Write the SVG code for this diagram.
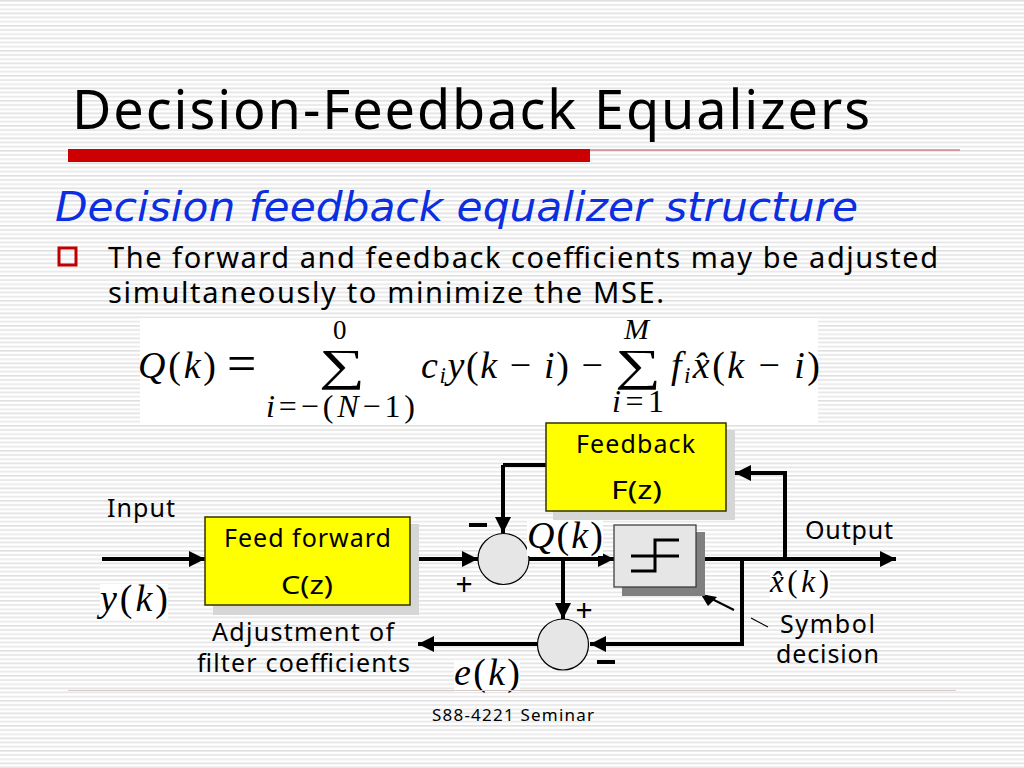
<svg xmlns="http://www.w3.org/2000/svg" width="1024" height="768" viewBox="0 0 1024 768">
<defs>
<pattern id="stripes" width="4" height="12.5" patternUnits="userSpaceOnUse">
<rect width="4" height="12.5" fill="#ffffff"/>
<rect y="0" width="4" height="1.6" fill="#e0e0e0"/>
<rect y="4.2" width="4" height="1.6" fill="#e4e4e4"/>
<rect y="8.4" width="4" height="1.6" fill="#e8e8e8"/>
</pattern>
<marker id="ah" markerUnits="userSpaceOnUse" markerWidth="18" markerHeight="18" refX="16" refY="8" orient="auto">
<path d="M0 0L16 8L0 16Z" fill="#000"/>
</marker>
</defs>
<style>
text{font-family:"Noto Sans","DejaVu Sans",sans-serif;fill:#000}
.m{font-family:"Liberation Serif",serif;font-style:italic;font-size:38px}
.r{font-family:"Liberation Serif",serif;font-style:normal}
.bg{fill:#fff}
.w{stroke:#000;stroke-width:4;fill:none}
.a{marker-end:url(#ah)}
.sum{fill:#e6e6e6;stroke:#000;stroke-width:1.2}
.box{fill:#ffff00;stroke:#333300;stroke-width:1.5}
.sh{fill:#d6d6d6}
.lb{font-size:25px}
</style>
<rect width="1024" height="768" fill="url(#stripes)"/>
<g id="title">
<text x="72" y="129" font-size="54" textLength="798" lengthAdjust="spacing">Decision-Feedback Equalizers</text>
<rect x="68" y="149" width="522" height="13" fill="#cc0000"/>
<rect x="590" y="149.500" width="370" height="1" fill="#c05050"/>
</g>
<g id="body">
<text x="55" y="221" font-size="40" font-style="italic" style="font-family:'DejaVu Sans',sans-serif;fill:#0a2ee0" textLength="803" lengthAdjust="spacingAndGlyphs">Decision feedback equalizer structure</text>
<rect x="59" y="248" width="17" height="17" fill="none" stroke="#c00000" stroke-width="3"/>
<text x="108" y="268" font-size="29" textLength="830" lengthAdjust="spacing">The forward and feedback coefficients may be adjusted</text>
<text x="108" y="303" font-size="29" textLength="556" lengthAdjust="spacing">simultaneously to minimize the MSE.</text>
</g>
<g id="equation">
<rect x="140" y="318" width="678" height="105" fill="#fff"/>
<text class="m" x="138" y="378" textLength="78">Q<tspan class="r">(</tspan>k<tspan class="r">)</tspan></text>
<text class="r" x="227" y="381" font-size="52" style="font-family:'Liberation Serif',serif">=</text>
<text class="r" x="333" y="339" font-size="27" style="font-family:'Liberation Serif',serif">0</text>
<text class="r" transform="translate(319 380) scale(1.15 .8)" font-size="56" style="font-family:'Liberation Serif',serif">∑</text>
<text class="m" x="266" y="417" style="font-size:32px" textLength="149">i<tspan class="r">=−(</tspan>N<tspan class="r">−1)</tspan></text>
<text class="m" x="421" y="378" textLength="182">c<tspan font-size="23" dy="5">i</tspan><tspan dy="-5">y</tspan><tspan class="r">(</tspan>k<tspan class="r"> − </tspan>i<tspan class="r">) − </tspan></text>
<text class="m" x="624" y="339" style="font-size:30px">M</text>
<text class="r" transform="translate(615 380) scale(1.15 .8)" font-size="56" style="font-family:'Liberation Serif',serif">∑</text>
<text class="m" x="612" y="412" style="font-size:32px" textLength="52">i<tspan class="r">=1</tspan></text>
<text class="m" x="671" y="378" textLength="149">f<tspan font-size="23" dy="5">i</tspan><tspan dy="-5">x̂</tspan><tspan class="r">(</tspan>k<tspan class="r"> − </tspan>i<tspan class="r">)</tspan></text>
</g>
<g id="connectors">
<path class="w a" d="M102 559H205"/>
<path class="w a" d="M418 559H478"/>
<path class="w" d="M546 465H503"/>
<path class="w a" d="M503 465V533"/>
<path class="w a" d="M529 559H614"/>
<path class="w a" d="M563 559V619"/>
<path class="w a" d="M700 559H896"/>
<path class="w a" d="M785 559V473H735"/>
<path class="w a" d="M742 559V644H590"/>
<path class="w a" d="M537 644H418"/>
<path d="M734 610L706 596" stroke="#000" stroke-width="2" fill="none"/>
<path d="M700.700 594L717 597L708 606Z" fill="#000"/>
<path d="M751 618L768 627" stroke="#000" stroke-width="1.2"/>
</g>
<g id="feedforward">
<rect class="sh" x="213" y="524" width="206" height="91"/>
<rect class="box" x="205" y="517" width="205" height="88"/>
<text class="lb" x="224" y="547" textLength="167" lengthAdjust="spacing">Feed forward</text>
<text class="lb" x="281" y="594" textLength="52" lengthAdjust="spacingAndGlyphs">C(z)</text>
</g>
<g id="feedback">
<rect class="sh" x="553" y="430" width="182" height="90"/>
<rect class="box" x="546" y="423" width="180" height="88"/>
<text class="lb" x="576" y="453" textLength="119" lengthAdjust="spacing">Feedback</text>
<text class="lb" x="611" y="499" textLength="51" lengthAdjust="spacingAndGlyphs">F(z)</text>
</g>
<g id="slicer">
<rect x="622" y="532" width="83" height="64" fill="#808080"/>
<rect x="614" y="525" width="82" height="62" fill="#e6e6e6" stroke="#333" stroke-width="1.2"/>
<path d="M631 571H655V540H679M631 556H679" stroke="#000" stroke-width="3" fill="none"/>
</g>
<g id="sum1"><circle class="sum" cx="503.500" cy="559" r="25.500"/></g>
<g id="sum2"><circle class="sum" cx="563" cy="644.500" r="25.500"/></g>
<g id="labels">
<text class="lb" x="107" y="517" textLength="68" lengthAdjust="spacing">Input</text>
<rect class="bg" x="100" y="584" width="68" height="36"/>
<text class="m" x="100" y="611" textLength="68">y<tspan class="r">(</tspan>k<tspan class="r">)</tspan></text>
<text class="lb" x="212" y="641" textLength="182" lengthAdjust="spacing">Adjustment of</text>
<text class="lb" x="197" y="672" textLength="213" lengthAdjust="spacing">filter coefficients</text>
<rect class="bg" x="527" y="520" width="76" height="36"/>
<text class="m" x="527" y="548" textLength="76">Q<tspan class="r">(</tspan>k<tspan class="r">)</tspan></text>
<rect class="bg" x="454" y="660" width="66" height="32"/>
<text class="m" x="454" y="685" textLength="66">e<tspan class="r">(</tspan>k<tspan class="r">)</tspan></text>
<rect class="bg" x="770" y="569" width="60" height="30"/>
<text class="m" x="770" y="592" style="font-size:31px" textLength="59">x̂<tspan class="r">(</tspan>k<tspan class="r">)</tspan></text>
<text class="lb" x="805" y="539" textLength="88" lengthAdjust="spacing">Output</text>
<text class="lb" x="780" y="633" textLength="95" lengthAdjust="spacing">Symbol</text>
<text class="lb" x="776" y="663" textLength="103" lengthAdjust="spacing">decision</text>
<text x="464" y="595" text-anchor="middle" font-size="30">+</text>
<text x="584" y="621" text-anchor="middle" font-size="30">+</text>
<rect x="469" y="523" width="18" height="4" fill="#000"/>
<rect x="597" y="660" width="18" height="4" fill="#000"/>
</g>
<g id="footer">
<rect x="68" y="690" width="888" height="1" fill="#d8c8c8"/>
<text x="432" y="721" font-size="17" textLength="162" lengthAdjust="spacing">S88-4221 Seminar</text>
</g>
</svg>
